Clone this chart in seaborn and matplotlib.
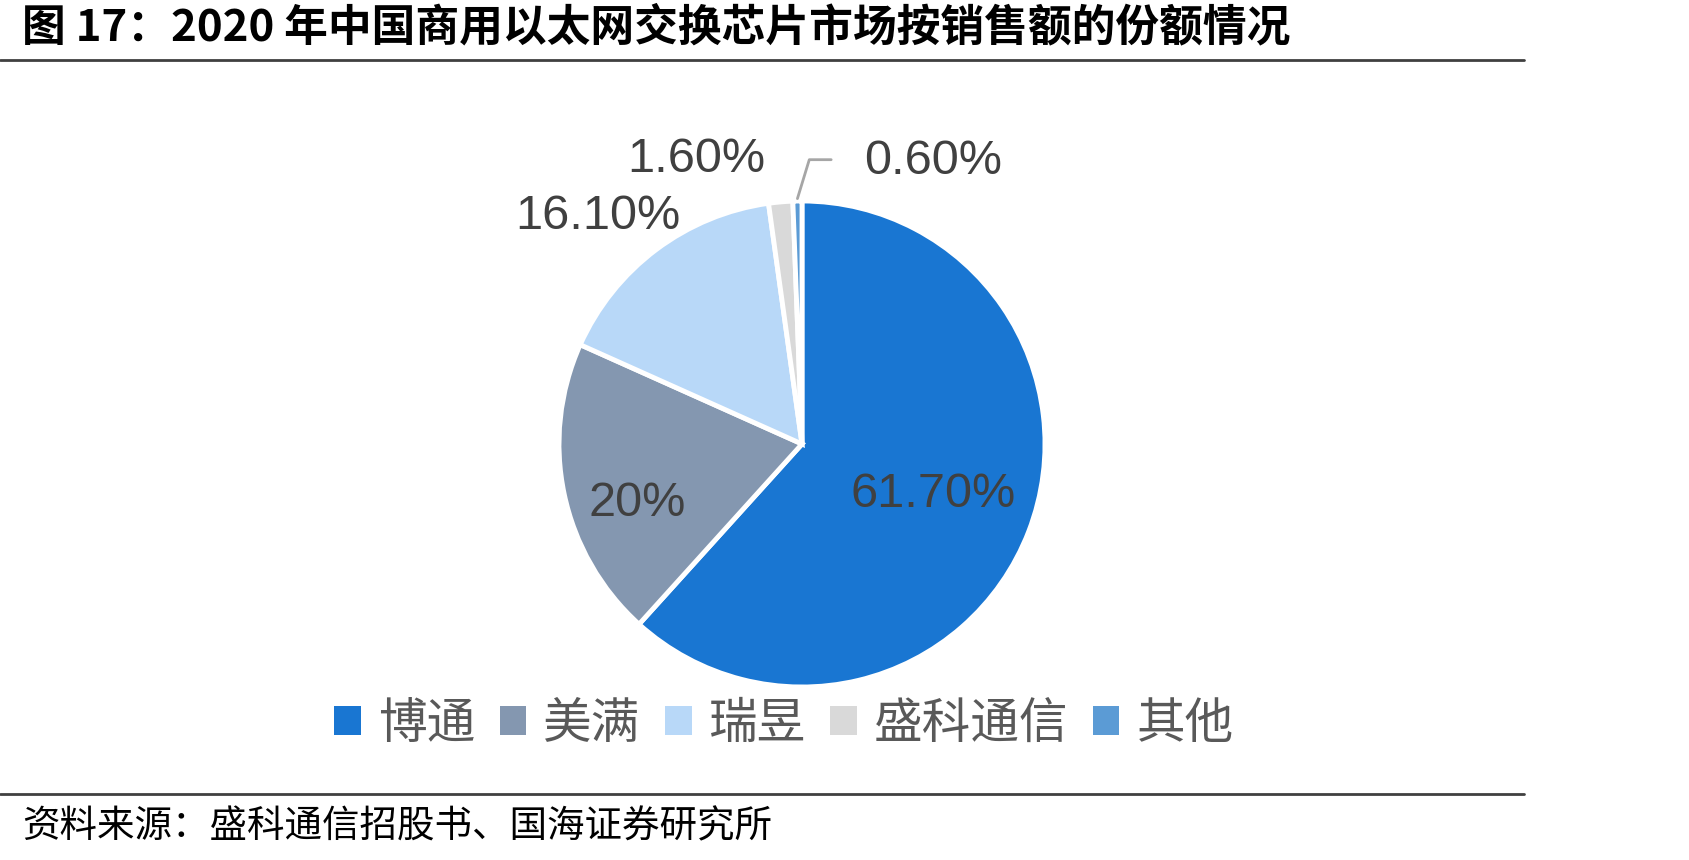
import numpy as np
import matplotlib
matplotlib.use("Agg")
import matplotlib.pyplot as plt
import seaborn as sns

# data
companies = ['博通', '美满', '瑞昱', '盛科通信', '其他']
shares = [61.7, 20.0, 16.1, 1.6, 0.6]
share_labels = ['61.70%', '20%', '16.10%', '1.60%', '0.60%']
colors = ['#1976D2', '#8497B0', '#B8D8F8', '#D9D9D9', '#5B9BD5']

title = '图 17：2020 年中国商用以太网交换芯片市场按销售额的份额情况'
source = '资料来源：盛科通信招股书、国海证券研究所'

sns.set_theme(style='white')
plt.rcParams['font.family'] = ['Noto Sans CJK SC', 'DejaVu Sans']

W, H = 1689, 860
fig = plt.figure(figsize=(W / 100, H / 100), dpi=100)
fig.patch.set_facecolor('white')

# pie axes: center and radius in pixels
cx, cy, r = 802, 444, 243
ax = fig.add_axes([(cx - r) / W, (H - cy - r) / H, 2 * r / W, 2 * r / H])
wedges, _ = ax.pie(shares, colors=colors, startangle=90, counterclock=False,
                   radius=1.0, wedgeprops=dict(edgecolor='white', linewidth=3.5))
ax.set_xlim(-1, 1)
ax.set_ylim(-1, 1)
ax.axis('off')

# label placement (radius, extra angle offset) per slice
label_pos = [(0.58, 0), (0.72, 8), (1.26, 5), (1.25, 15.3), (1.28, -26)]
for w, lab, (rr, dang) in zip(wedges, share_labels, label_pos):
    ang = np.deg2rad((w.theta1 + w.theta2) / 2 + dang)
    x, y = rr * np.cos(ang), rr * np.sin(ang)
    ax.text(x, y, lab, ha='center', va='center', fontsize=35,
            family=['Liberation Sans'], color='#404040', clip_on=False)

# leader line for the small "other" slice
w = wedges[-1]
a = np.deg2rad((w.theta1 + w.theta2) / 2)
x0, y0 = 1.0 * np.cos(a), 1.0 * np.sin(a)
ax.plot([x0, 0.03, 0.12], [y0 + 0.01, 1.17, 1.17], color='#A6A6A6', lw=2,
        clip_on=False)

# legend
handles = [plt.Rectangle((0, 0), 1, 1, facecolor=c, edgecolor='none') for c in colors]
leg = fig.legend(handles, companies, loc='center', bbox_to_anchor=(784 / W, 1 - 724 / H),
                 ncol=5, frameon=False, fontsize=35, handlelength=0.55, handleheight=0.55,
                 handletextpad=0.35, columnspacing=0.5, labelcolor='#595959')

# title, rules, source
fig.text(22 / W, 1 - 27 / H, title, ha='left', va='center', fontsize=31.5,
         fontweight='bold', color='black')
fig.add_artist(plt.Line2D([0, 1524 / W], [1 - 60 / H] * 2, color='#404040', lw=2))
fig.add_artist(plt.Line2D([0, 1524 / W], [1 - 794 / H] * 2, color='#404040', lw=2))
fig.text(22 / W, 1 - 827 / H, source, ha='left', va='center', fontsize=27,
         color='black')

fig.savefig('out.png', dpi=100, facecolor='white')
